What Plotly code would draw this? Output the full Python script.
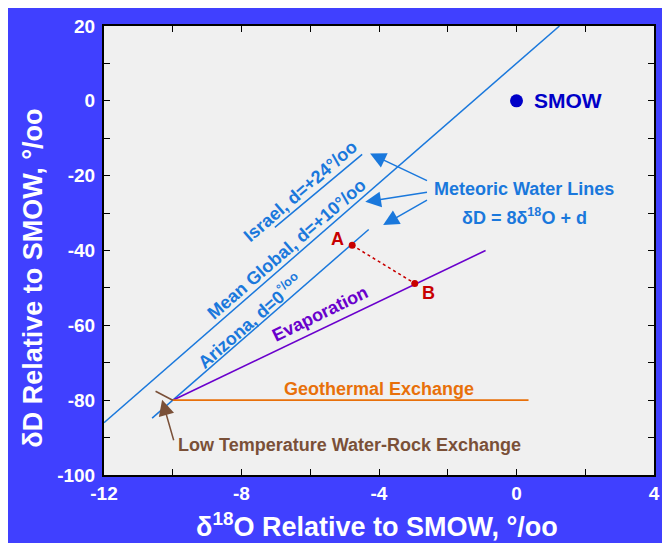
import plotly.graph_objects as go

# ---- data ----
global_x = [-12.0, 1.25]
global_y = [-86.0, 20.0]
arizona_x = [-10.6, -4.3]
arizona_y = [-84.8, -34.4]
israel_x = [-7.03, -4.49]
israel_y = [-33.8, -14.3]
evap_x = [-10.0, -0.9]
evap_y = [-80.0, -40.0]
geo_x = [-10.0, 0.35]
geo_y = [-80.0, -80.0]
wr_x = [-10.5, -10.0]
wr_y = [-77.6, -80.0]
ab_x = [-4.78, -2.96]
ab_y = [-38.6, -48.8]
smow_x = [0.0]
smow_y = [0.0]

x_tickvals = [-12, -10, -8, -6, -4, -2, 0, 2, 4]
x_ticktext = ["-12", "", "-8", "", "-4", "", "0", "", "4"]
y_tickvals = [20, 10, 0, -10, -20, -30, -40, -50, -60, -70, -80, -90, -100]
y_ticktext = ["20", "", "0", "", "-20", "", "-40", "", "-60", "", "-80", "", "-100"]

# arrow (tip, tail) positions in data units
mwl_arrow_tips = [(-4.26, -14.1), (-4.40, -27.0), (-3.88, -33.2)]
mwl_arrow_tails = [(-2.56, -21.5), (-2.56, -24.4), (-2.56, -26.3)]
wr_arrow_tip = (-10.31, -79.9)
wr_arrow_tail = (-9.96, -91.1)

BLUE = "#1a78dc"
FONT = "Liberation Sans, Arial, sans-serif"

fig = go.Figure()

def line(x, y, color, width=1.5, dash="solid"):
    fig.add_trace(go.Scatter(x=x, y=y, mode="lines",
                             line=dict(color=color, width=width, dash=dash),
                             hoverinfo="skip", showlegend=False))

line(global_x, global_y, BLUE)
line(arizona_x, arizona_y, BLUE)
line(israel_x, israel_y, BLUE)
line(evap_x, evap_y, "#6a00cc", 1.6)
line(geo_x, geo_y, "#e8700a", 1.8)
line(wr_x, wr_y, "#7a5038", 1.6)
line(ab_x, ab_y, "#c80000", 1.5, "dot")
fig.add_trace(go.Scatter(x=ab_x, y=ab_y, mode="markers",
                         marker=dict(color="#c80000", size=7),
                         hoverinfo="skip", showlegend=False))
fig.add_trace(go.Scatter(x=smow_x, y=smow_y, mode="markers",
                         marker=dict(color="#0000c8", size=13),
                         hoverinfo="skip", showlegend=False))

def label(x, y, text, color, size=17, angle=0, xanchor="center"):
    fig.add_annotation(x=x, y=y, text=text, showarrow=False, textangle=angle,
                       xanchor=xanchor, yanchor="middle",
                       font=dict(family=FONT, size=size, color=color, weight="bold"))

label(-6.27, -24.2, "Israel, d=+24°/oo", BLUE, 18, -41)
label(-6.68, -39.6, "Mean Global, d=+10°/oo", BLUE, 18, -41)
label(-7.74, -58.8, "Arizona, d=0<sup>°/oo</sup>", BLUE, 18, -41)
label(-5.73, -56.9, "Evaporation", "#6a00cc", 18, -26)
label(-5.20, -36.9, "A", "#c80000", 18)
label(-2.56, -51.3, "B", "#c80000", 18)
label(0.23, -23.6, "Meteoric Water Lines", BLUE, 18)
label(0.23, -30.8, "δD = 8δ<sup>18</sup>O + d", BLUE, 18)
label(0.46, 0.0, "SMOW", "#0000c8", 21, xanchor="left")
label(-4.0, -76.9, "Geothermal Exchange", "#e8700a", 18)
label(-9.90, -92.0, "Low Temperature Water-Rock Exchange", "#7a5038", 18, xanchor="left")

for (tx, ty), (sx, sy) in zip(mwl_arrow_tips, mwl_arrow_tails):
    fig.add_annotation(x=tx, y=ty, ax=sx, ay=sy, axref="x", ayref="y", text="",
                       showarrow=True, arrowhead=2, arrowsize=2.1, arrowwidth=1.5,
                       arrowcolor=BLUE)
fig.add_annotation(x=wr_arrow_tip[0], y=wr_arrow_tip[1], ax=wr_arrow_tail[0], ay=wr_arrow_tail[1],
                   axref="x", ayref="y", text="", showarrow=True, arrowhead=2,
                   arrowsize=2.1, arrowwidth=1.5, arrowcolor="#7a5038")

# axis titles (positions relative to plot area)
fig.add_annotation(xref="paper", yref="paper", x=-0.1295, y=0.439,
                   text="δD Relative to SMOW, °/oo", showarrow=False, textangle=-90,
                   xanchor="center", yanchor="middle",
                   font=dict(family=FONT, size=27, color="white", weight="bold"))
fig.add_annotation(xref="paper", yref="paper", x=0.496, y=-0.111,
                   text="δ<sup>18</sup>O Relative to SMOW, °/oo", showarrow=False,
                   xanchor="center", yanchor="middle",
                   font=dict(family=FONT, size=27, color="white", weight="bold"))

# page body margin of 8px puts the figure at (8, 8) in the window
W, H = 660, 535
L, R, T, B = 96, 8, 16, 68

axis_common = dict(showgrid=False, zeroline=False, ticks="inside", ticklen=6,
                   tickwidth=1, tickcolor="black", showline=True, linecolor="black",
                   linewidth=2, mirror="ticks",
                   tickfont=dict(family=FONT, size=19, color="white", weight="bold"))

fig.update_xaxes(range=[-12, 4], tickmode="array", tickvals=x_tickvals,
                 ticktext=x_ticktext, **axis_common)
fig.update_yaxes(range=[-100, 20], tickmode="array", tickvals=y_tickvals,
                 ticktext=y_ticktext, ticklabelstandoff=3, **axis_common)

fig.update_layout(width=W, height=H, autosize=False,
                  margin=dict(l=L, r=R, t=T, b=B),
                  paper_bgcolor="#4040ff", plot_bgcolor="#f0f0f0",
                  showlegend=False)

fig.write_html("out.html", config={"displayModeBar": False})
